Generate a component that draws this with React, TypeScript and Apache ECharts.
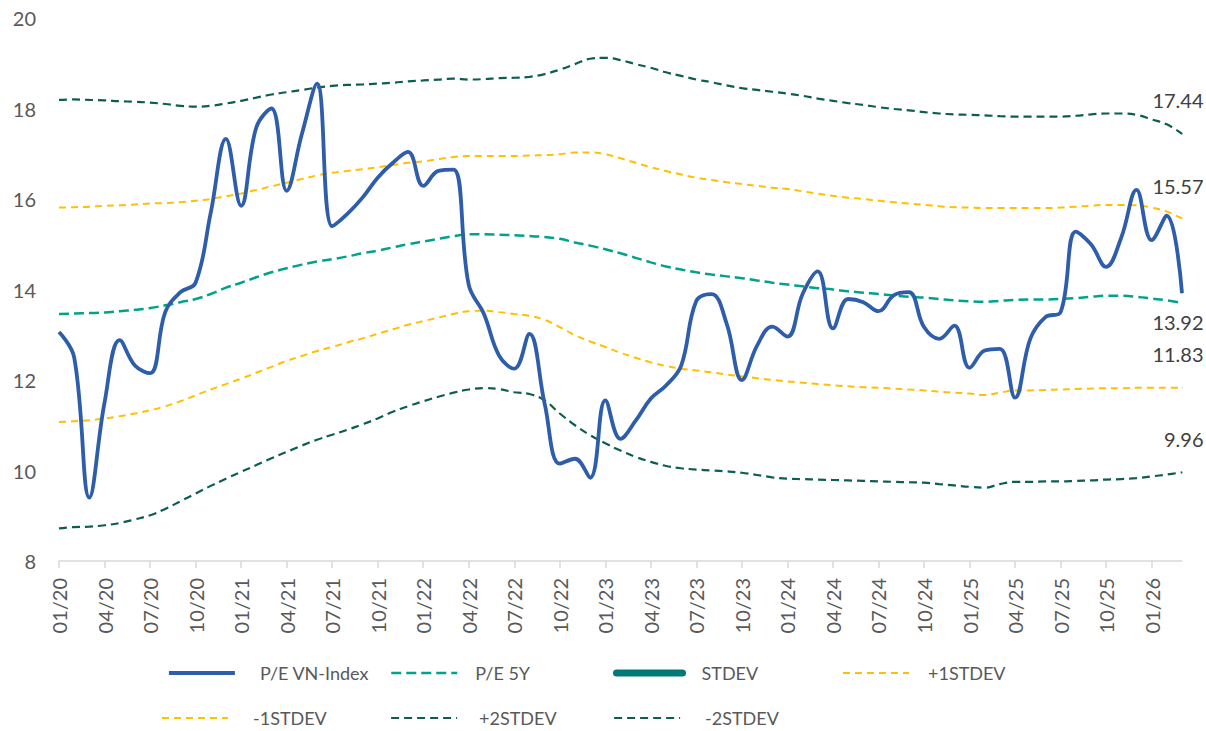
import React, { useEffect, useRef } from "react";
import * as echarts from "echarts";

const categories = [
  "01/20","02/20","03/20","04/20","05/20","06/20","07/20","08/20","09/20","10/20","11/20","12/20",
  "01/21","02/21","03/21","04/21","05/21","06/21","07/21","08/21","09/21","10/21","11/21","12/21",
  "01/22","02/22","03/22","04/22","05/22","06/22","07/22","08/22","09/22","10/22","11/22","12/22",
  "01/23","02/23","03/23","04/23","05/23","06/23","07/23","08/23","09/23","10/23","11/23","12/23",
  "01/24","02/24","03/24","04/24","05/24","06/24","07/24","08/24","09/24","10/24","11/24","12/24",
  "01/25","02/25","03/25","04/25","05/25","06/25","07/25","08/25","09/25","10/25","11/25","12/25",
  "01/26","02/26","03/26",
];

const peVnIndex = [
  13.06, 12.5, 9.4, 11.5, 12.88, 12.32, 12.15, 13.5, 13.94, 14.15, 15.7, 17.33,
  15.85, 17.58, 18.0, 16.18, 17.43, 18.55, 15.4, 15.67, 16.03, 16.47, 16.8, 17.04,
  16.29, 16.62, 16.65, 14.1, 13.46, 12.54, 12.25, 13.02, 11.48, 10.15, 10.26, 9.84,
  11.55, 10.7, 11.1, 11.59, 11.88, 12.32, 13.75, 13.9, 13.24, 12.0, 12.76, 13.18,
  12.96, 13.9, 14.4, 13.14, 13.79, 13.72, 13.52, 13.87, 13.94, 13.17, 12.91, 13.2,
  12.27, 12.65, 12.69, 11.61, 12.91, 13.39, 13.5, 15.28, 15.0, 14.5, 15.15, 16.2,
  15.09, 15.63, 13.92,
];

const pe5Y = [
  13.46, 13.47, 13.48, 13.49, 13.52, 13.55, 13.59, 13.65, 13.72, 13.79, 13.9, 14.04,
  14.15, 14.27, 14.38, 14.47, 14.55, 14.62, 14.67, 14.73, 14.8, 14.86, 14.93, 15.0,
  15.06, 15.12, 15.18, 15.22, 15.22, 15.21, 15.2, 15.18, 15.16, 15.12, 15.04, 14.97,
  14.89, 14.8, 14.7, 14.6, 14.51, 14.44, 14.38, 14.33, 14.29, 14.25, 14.2, 14.15,
  14.11, 14.07, 14.03, 14.0, 13.96, 13.93, 13.9, 13.87, 13.84, 13.82, 13.79, 13.76,
  13.74, 13.73, 13.75, 13.77, 13.78, 13.78, 13.79, 13.81, 13.84, 13.86, 13.86, 13.84,
  13.8, 13.76, 13.7,
];

const plus1Stdev = [
  15.81, 15.82, 15.83, 15.85, 15.86, 15.88, 15.9, 15.91, 15.93, 15.96, 16.0, 16.06,
  16.12, 16.2, 16.28, 16.36, 16.44, 16.52, 16.58, 16.62, 16.66, 16.7, 16.75, 16.8,
  16.83, 16.88, 16.93, 16.95, 16.95, 16.95, 16.95, 16.96, 16.97, 16.99, 17.03, 17.03,
  16.99, 16.9, 16.8, 16.7, 16.62, 16.54, 16.47, 16.42, 16.37, 16.33, 16.29, 16.25,
  16.22, 16.17, 16.12, 16.07, 16.03, 16.0, 15.96, 15.93, 15.9, 15.87, 15.84, 15.82,
  15.81, 15.8, 15.8, 15.8, 15.8, 15.8, 15.81, 15.83, 15.85, 15.87, 15.87, 15.86,
  15.81, 15.72, 15.57,
];

const minus1Stdev = [
  11.07, 11.09, 11.11, 11.15, 11.2, 11.26, 11.33, 11.42, 11.53, 11.66, 11.79, 11.91,
  12.03, 12.16, 12.29, 12.42, 12.53, 12.64, 12.73, 12.83, 12.92, 13.02, 13.12, 13.22,
  13.3, 13.38, 13.46, 13.52, 13.53, 13.5, 13.46, 13.42, 13.33, 13.17, 12.99, 12.85,
  12.73, 12.6, 12.49, 12.39, 12.31, 12.25, 12.21, 12.17, 12.12, 12.08, 12.04, 12.0,
  11.97, 11.94, 11.91, 11.88, 11.86, 11.84, 11.83, 11.81, 11.79, 11.77, 11.74, 11.72,
  11.7, 11.67, 11.72, 11.77, 11.77, 11.78, 11.79, 11.8, 11.81, 11.82, 11.82, 11.83,
  11.83, 11.83, 11.83,
];

const plus2Stdev = [
  18.19, 18.2, 18.19, 18.18, 18.16, 18.15, 18.13, 18.1, 18.06, 18.04, 18.06, 18.11,
  18.17, 18.24, 18.31, 18.36, 18.41, 18.46, 18.5, 18.52, 18.53, 18.55, 18.57, 18.6,
  18.62, 18.64, 18.66, 18.64, 18.65, 18.67, 18.68, 18.7, 18.76, 18.86, 18.98, 19.1,
  19.12, 19.07, 18.98, 18.9, 18.8, 18.72, 18.64, 18.58, 18.51, 18.45, 18.41, 18.37,
  18.33, 18.28, 18.22, 18.17, 18.12, 18.08, 18.03, 17.99, 17.96, 17.92, 17.89, 17.87,
  17.86, 17.85, 17.83, 17.82, 17.82, 17.82, 17.82, 17.84, 17.87, 17.89, 17.89, 17.86,
  17.76, 17.65, 17.44,
];

const minus2Stdev = [
  8.72, 8.75, 8.76, 8.79, 8.84, 8.92, 9.01, 9.15, 9.32, 9.49, 9.66, 9.82,
  9.97, 10.12, 10.27, 10.41, 10.55, 10.68, 10.79, 10.9, 11.02, 11.15, 11.3, 11.42,
  11.53, 11.63, 11.72, 11.79, 11.82, 11.8, 11.73, 11.69, 11.55, 11.26, 11.0, 10.78,
  10.6, 10.44, 10.3, 10.19, 10.1, 10.05, 10.02, 10.0, 9.98, 9.95, 9.9, 9.85,
  9.82, 9.81, 9.8, 9.79, 9.78, 9.77, 9.76, 9.75, 9.74, 9.73, 9.7, 9.67,
  9.64, 9.62, 9.7, 9.75, 9.75, 9.76, 9.76, 9.77, 9.78, 9.8, 9.81, 9.83,
  9.87, 9.91, 9.96,
];

const stdev: number[] = [];

const FONT = 'Lato, "Liberation Sans", sans-serif';
const AXIS_GRAY = "#595959";

function withEndLabel(values: number[], dy: number) {
  return values.map((v, i) =>
    i === values.length - 1
      ? {
          value: v,
          symbol: "circle",
          symbolSize: 1,
          label: {
            show: true,
            position: [22, dy],
            align: "right",
            verticalAlign: "middle",
            fontSize: 20,
            fontFamily: FONT,
            color: "#404040",
            formatter: (p: any) => Number(p.value).toFixed(2),
          },
        }
      : v
  );
}

function legendAt(name: string, left: number, top: number, pad: number) {
  return {
    data: [name],
    left,
    top,
    padding: 0,
    itemWidth: 66,
    itemHeight: 14,
    selectedMode: false,
    itemStyle: { color: "rgba(0,0,0,0)", borderWidth: 0, opacity: 0 },
    lineStyle: { width: "inherit" },
    textStyle: {
      fontSize: 18,
      fontFamily: FONT,
      color: AXIS_GRAY,
      padding: [0, 0, 0, pad],
    },
  };
}

export default function App() {
  const ref = useRef<HTMLDivElement>(null);

  useEffect(() => {
    if (!ref.current) return;
    const chart = echarts.init(ref.current, undefined, { renderer: "svg" });
    const dashed = (color: string, width: number, dash: number[]) => ({
      color,
      width,
      type: dash,
    });
    chart.setOption({
      animation: false,
      backgroundColor: "#ffffff",
      grid: { left: 59, right: 24, top: 18, bottom: 170, containLabel: false },
      legend: [
        legendAt("P/E VN-Index", 167, 664, 20),
        legendAt("P/E 5Y", 390, 664, 13),
        legendAt("STDEV", 613, 664, 14),
        legendAt("+1STDEV", 842, 664, 14),
        legendAt("-1STDEV", 161, 709, 20),
        legendAt("+2STDEV", 390, 709, 17),
        legendAt("-2STDEV", 613, 709, 20),
      ],
      xAxis: {
        type: "category",
        data: categories,
        boundaryGap: false,
        axisLine: { lineStyle: { color: "#D9D9D9", width: 1.5 } },
        axisTick: { interval: 2, length: 7, lineStyle: { color: "#D9D9D9", width: 1.5 } },
        axisLabel: {
          interval: 2,
          rotate: 90,
          margin: 17,
          fontSize: 20,
          fontFamily: FONT,
          color: AXIS_GRAY,
        },
        splitLine: { show: false },
      },
      yAxis: {
        type: "value",
        min: 8,
        max: 20,
        interval: 2,
        axisLine: { show: false },
        axisTick: { show: false },
        splitLine: { show: false },
        axisLabel: { margin: 23, fontSize: 20, fontFamily: FONT, color: AXIS_GRAY },
      },
      series: [
        {
          name: "P/E VN-Index",
          type: "line",
          data: withEndLabel(peVnIndex, 29),
          smooth: 0.4,
          symbol: "none",
          lineStyle: { color: "#2E5DAB", width: 3.8 },
          itemStyle: { color: "#2E5DAB" },
          z: 5,
        },
        {
          name: "P/E 5Y",
          type: "line",
          data: pe5Y,
          smooth: 0.4,
          symbol: "none",
          lineStyle: dashed("#00A38A", 2.5, [10, 5]),
          itemStyle: { color: "#00A38A" },
        },
        {
          name: "STDEV",
          type: "line",
          data: stdev,
          symbol: "none",
          lineStyle: { color: "#007A78", width: 7, cap: "round" },
          itemStyle: { color: "#007A78" },
        },
        {
          name: "+1STDEV",
          type: "line",
          data: withEndLabel(plus1Stdev, -32),
          smooth: 0.4,
          symbol: "none",
          lineStyle: dashed("#FFC000", 2, [7, 5]),
          itemStyle: { color: "#FFC000" },
        },
        {
          name: "-1STDEV",
          type: "line",
          data: withEndLabel(minus1Stdev, -33),
          smooth: 0.4,
          symbol: "none",
          lineStyle: dashed("#FFC000", 2, [7, 5]),
          itemStyle: { color: "#FFC000" },
        },
        {
          name: "+2STDEV",
          type: "line",
          data: withEndLabel(plus2Stdev, -33),
          smooth: 0.4,
          symbol: "none",
          lineStyle: dashed("#0B5E50", 2.2, [8, 5]),
          itemStyle: { color: "#0B5E50" },
        },
        {
          name: "-2STDEV",
          type: "line",
          data: withEndLabel(minus2Stdev, -33),
          smooth: 0.4,
          symbol: "none",
          lineStyle: dashed("#0B5E50", 2.2, [8, 5]),
          itemStyle: { color: "#0B5E50" },
        },
      ],
    });
    return () => chart.dispose();
  }, []);

  return (
    <div
      ref={ref}
      style={{ position: "fixed", left: 0, top: 0, width: 1206, height: 731, background: "#fff" }}
    />
  );
}
